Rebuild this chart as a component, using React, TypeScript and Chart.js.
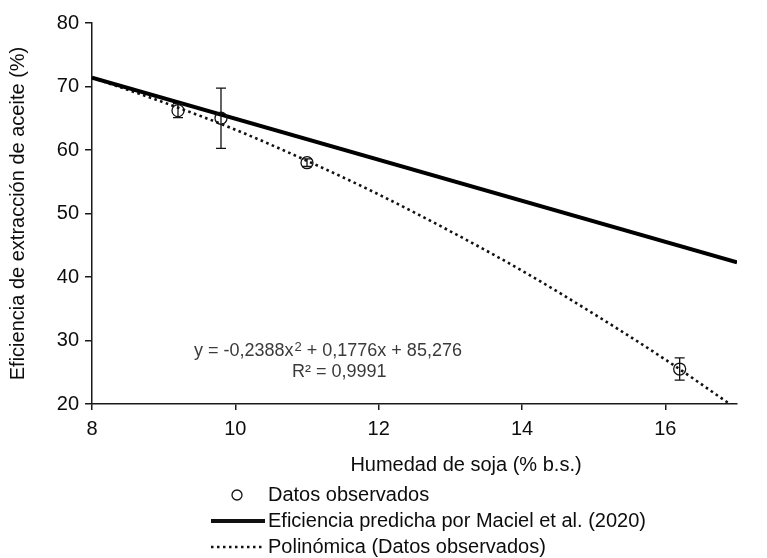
import React, { useEffect, useRef } from "react";
import { Chart, registerables } from "chart.js";
Chart.register(...registerables);

// ---- data ----
const xTicks = [8, 10, 12, 14, 16];
const yTicks = [20, 30, 40, 50, 60, 70, 80];

const obsX = [9.2, 9.8, 11.0, 16.2];
const obsY = [66.2, 65.0, 58.0, 25.5];
const obsErr = [1.1, 4.75, 0.6, 1.75];

const macielX = [8, 17];
const macielY = [71.4, 42.3];

const polyX = [8, 9, 10, 11, 12, 13, 14, 15, 16, 16.9];
const polyY = [71.4, 67.5, 63.2, 58.3, 53.0, 47.2, 41.0, 34.2, 27.0, 20.0];

const xTitle = "Humedad de soja (% b.s.)";
const yTitle = "Eficiencia de extracción de aceite (%)";
const legendLabels = [
  "Datos observados",
  "Eficiencia predicha por Maciel et al. (2020)",
  "Polinómica (Datos observados)",
];
const eqPart1 = "y = -0,2388x";
const eqSup = "2";
const eqPart2 = " + 0,1776x + 85,276";
const eqLine2 = "R² = 0,9991";

const FONT = "'Liberation Sans', Arial, Helvetica, sans-serif";
const AXIS = "#1a1a1a";
const TEXT = "#0d0d0d";

export default function App() {
  const ref = useRef<HTMLCanvasElement>(null);

  useEffect(() => {
    if (!ref.current) return;

    const errorBars = {
      id: "errorBars",
      afterDatasetsDraw(chart: any) {
        const { ctx, scales } = chart;
        const xs = scales.x;
        const ys = scales.y;
        ctx.save();
        ctx.strokeStyle = "#111";
        ctx.lineWidth = 1.3;
        obsX.forEach((xv, i) => {
          const px = xs.getPixelForValue(xv);
          const top = ys.getPixelForValue(obsY[i] + obsErr[i]);
          const bot = ys.getPixelForValue(obsY[i] - obsErr[i]);
          ctx.beginPath();
          ctx.moveTo(px, top);
          ctx.lineTo(px, bot);
          ctx.moveTo(px - 5, top);
          ctx.lineTo(px + 5, top);
          ctx.moveTo(px - 5, bot);
          ctx.lineTo(px + 5, bot);
          ctx.stroke();
        });
        ctx.restore();
      },
    };

    const extras = {
      id: "extras",
      afterDraw(chart: any) {
        const { ctx } = chart;
        ctx.save();
        // equation
        ctx.fillStyle = "#3a3a3a";
        ctx.textBaseline = "middle";
        ctx.textAlign = "left";
        ctx.font = `18px ${FONT}`;
        let x = 194;
        const y1 = 351;
        ctx.fillText(eqPart1, x, y1);
        x += ctx.measureText(eqPart1).width + 1;
        ctx.font = `13px ${FONT}`;
        ctx.fillText(eqSup, x, y1 - 4);
        x += ctx.measureText(eqSup).width;
        ctx.font = `18px ${FONT}`;
        ctx.fillText(eqPart2, x, y1);
        ctx.fillText(eqLine2, 292, 372);

        // x-axis title
        ctx.fillStyle = TEXT;
        ctx.font = `20px ${FONT}`;
        ctx.textAlign = "center";
        ctx.fillText(xTitle, 466, 465);

        // legend
        ctx.textAlign = "left";
        ctx.font = `20px ${FONT}`;
        const lx = 268;
        const ly = [495, 521, 547];
        ctx.strokeStyle = "#111";
        ctx.lineWidth = 1.3;
        ctx.beginPath();
        ctx.arc(237, ly[0], 5, 0, Math.PI * 2);
        ctx.stroke();
        ctx.lineWidth = 4;
        ctx.beginPath();
        ctx.moveTo(211, ly[1]);
        ctx.lineTo(265, ly[1]);
        ctx.stroke();
        ctx.lineWidth = 2.5;
        ctx.setLineDash([2.5, 3.5]);
        ctx.beginPath();
        ctx.moveTo(211, ly[2]);
        ctx.lineTo(265, ly[2]);
        ctx.stroke();
        ctx.setLineDash([]);
        legendLabels.forEach((t, i) => ctx.fillText(t, lx, ly[i]));
        ctx.restore();
      },
    };

    const chart = new Chart(ref.current, {
      type: "scatter",
      data: {
        datasets: [
          {
            label: legendLabels[0],
            data: obsX.map((x, i) => ({ x, y: obsY[i] })),
            pointStyle: "circle",
            pointRadius: 6,
            pointBorderWidth: 1.3,
            pointBorderColor: "#111",
            pointBackgroundColor: "rgba(0,0,0,0)",
            showLine: false,
            order: 0,
          },
          {
            label: legendLabels[1],
            data: macielX.map((x, i) => ({ x, y: macielY[i] })),
            showLine: true,
            borderColor: "#000",
            borderWidth: 4,
            pointRadius: 0,
            order: 1,
          },
          {
            label: legendLabels[2],
            data: polyX.map((x, i) => ({ x, y: polyY[i] })),
            showLine: true,
            borderColor: "#111",
            borderWidth: 2.6,
            borderDash: [2.6, 3.4],
            borderCapStyle: "butt",
            cubicInterpolationMode: "monotone",
            pointRadius: 0,
            order: 2,
          },
        ],
      },
      options: {
        animation: false,
        responsive: true,
        maintainAspectRatio: false,
        layout: { padding: { top: 23, right: 30, left: 0, bottom: 0 } },
        plugins: {
          legend: { display: false },
          tooltip: { enabled: false },
        },
        scales: {
          x: {
            type: "linear",
            min: 8,
            max: 17,
            afterBuildTicks: (s: any) => {
              s.ticks = xTicks.map((v) => ({ value: v }));
            },
            afterFit: (s: any) => {
              s.height = 154;
            },
            ticks: {
              color: TEXT,
              font: { family: FONT, size: 20 },
              padding: 7,
              maxRotation: 0,
              callback: (v: any) => String(v),
            },
            grid: {
              display: true,
              drawOnChartArea: false,
              drawTicks: true,
              tickLength: 6,
              color: AXIS,
              lineWidth: 1.5,
            },
            border: { display: true, color: AXIS, width: 1.5 },
          },
          y: {
            type: "linear",
            min: 20,
            max: 80,
            afterBuildTicks: (s: any) => {
              s.ticks = yTicks.map((v) => ({ value: v }));
            },
            afterFit: (s: any) => {
              s.width = 92;
            },
            ticks: {
              color: TEXT,
              font: { family: FONT, size: 20 },
              padding: 6,
              callback: (v: any) => String(v),
            },
            grid: {
              display: true,
              drawOnChartArea: false,
              drawTicks: true,
              tickLength: 7,
              color: AXIS,
              lineWidth: 1.5,
            },
            border: { display: true, color: AXIS, width: 1.5 },
            title: {
              display: true,
              text: yTitle,
              color: TEXT,
              font: { family: FONT, size: 20 },
              padding: { top: 6, bottom: 0 },
            },
          },
        },
      },
      plugins: [errorBars, extras],
    } as any);

    return () => chart.destroy();
  }, []);

  return (
    <div
      style={{
        position: "fixed",
        left: 0,
        top: 0,
        width: 767,
        height: 558,
        background: "#fff",
      }}
    >
      <canvas ref={ref} />
    </div>
  );
}
